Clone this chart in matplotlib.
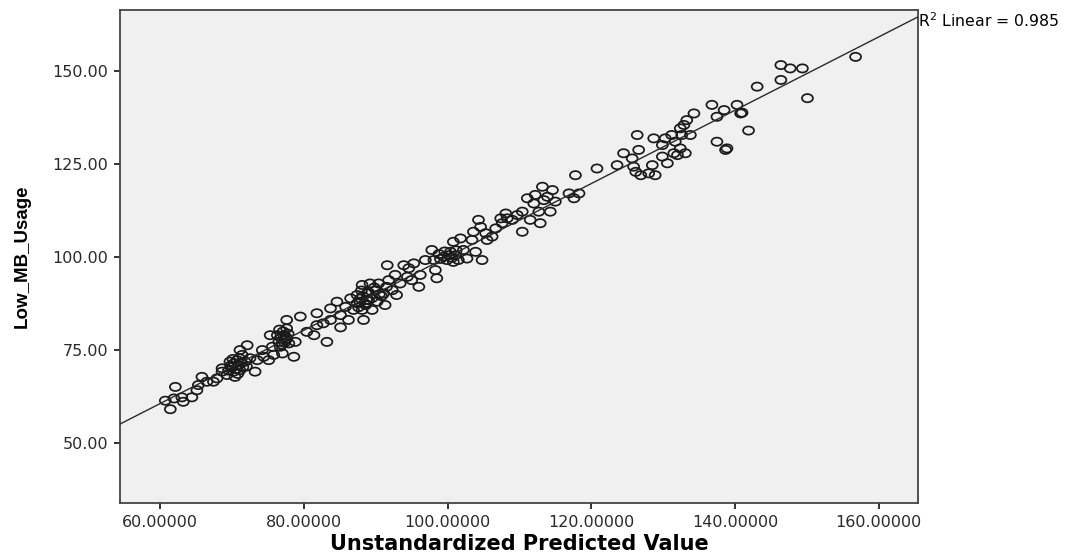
import numpy as np
import matplotlib
matplotlib.use('Agg')
import matplotlib.pyplot as plt
from matplotlib.path import Path
from matplotlib.ticker import FormatStrFormatter

predicted = [
    62.1, 61.4, 60.7, 61.9, 63.0, 63.2, 64.4, 65.1, 65.3, 65.8,
    66.5, 67.4, 67.9, 68.6, 68.6, 69.3, 69.7, 70.0, 70.2, 70.4,
    70.7, 70.9, 71.1, 71.4, 71.1, 72.1, 71.8, 72.5, 73.2, 73.5,
    74.2, 74.4, 75.1, 75.6, 75.8, 75.3, 76.3, 76.5, 76.7, 77.0,
    77.2, 77.4, 77.6, 77.6, 77.9, 78.6, 78.8, 79.5, 80.4, 81.4,
    81.8, 81.8, 82.7, 83.2,
    69.8, 70.3, 70.6, 71.0, 70.1, 69.5, 71.5, 70.8, 72.0, 71.3,
    76.8, 77.1, 77.5, 76.6, 77.8, 77.3, 76.9, 77.6,
    83.7, 83.7, 84.6, 85.1, 85.1, 85.8, 86.2, 86.5, 86.9, 87.4,
    87.4, 87.9, 88.1, 88.1, 88.3, 88.6, 88.8, 89.0, 89.2, 89.5,
    90.0, 90.2, 90.4, 91.1, 91.3, 91.6, 91.8, 92.3, 92.7, 92.9,
    93.4, 93.9, 94.4, 94.6, 95.0, 95.3, 96.0, 96.2, 96.9, 97.8,
    98.1, 98.5, 98.3,
    87.8, 88.2, 88.5, 88.0, 89.0, 89.5, 90.5, 88.7, 87.6, 89.8,
    90.8, 91.5,
    100.8, 101.8, 100.4, 101.1, 101.5, 102.2, 102.7, 103.4, 103.6, 103.9,
    104.3, 104.6, 104.8, 105.3, 105.5, 106.2, 106.7, 107.4, 107.6, 108.1,
    108.3, 109.0, 109.7, 110.4, 110.4, 111.1, 111.5, 112.0, 112.2, 112.7,
    112.9, 113.2, 113.4, 113.9, 114.3, 114.6, 115.0, 116.9, 117.6, 117.8,
    99.9, 100.8, 99.5, 99.0, 100.2, 99.6, 100.6, 101.2, 98.8,
    118.3, 120.8, 123.6, 124.5, 125.7, 125.9, 126.2, 126.4, 126.6, 126.9,
    128.0, 128.5, 128.7, 128.9, 129.9, 129.9, 130.3, 130.6, 131.2, 131.5,
    131.7, 132.0, 132.4, 132.4, 132.6, 132.9, 133.1, 133.3, 133.8, 134.3,
    136.8, 137.5, 137.5, 138.5, 138.7, 140.3, 140.8,
    146.4, 147.7, 149.4, 146.4, 143.1, 150.1, 156.8, 141.0, 141.9, 138.9,
]
observed = [
    65.1, 59.1, 61.4, 62.0, 62.3, 61.1, 62.3, 64.2, 65.6, 67.8,
    66.5, 66.5, 67.4, 69.2, 70.1, 68.3, 71.9, 70.5, 69.2, 67.8,
    72.3, 71.0, 69.6, 73.7, 75.0, 76.3, 71.9, 72.8, 69.2, 72.3,
    75.0, 73.2, 72.3, 75.9, 73.7, 79.0, 79.0, 77.2, 75.9, 74.1,
    79.0, 77.7, 80.8, 83.1, 76.8, 73.2, 77.2, 84.0, 79.9, 79.0,
    81.7, 84.9, 82.2, 77.2,
    70.8, 71.5, 69.9, 72.8, 72.6, 69.5, 70.4, 68.6, 70.6, 71.6,
    78.2, 80.0, 78.5, 80.5, 79.4, 77.0, 76.5, 78.0,
    86.2, 83.1, 88.0, 84.4, 81.1, 86.6, 83.1, 88.9, 85.8, 89.8,
    87.6, 88.9, 92.5, 85.8, 83.1, 87.1, 90.2, 88.4, 92.9, 85.8,
    91.1, 88.0, 92.9, 90.2, 87.1, 97.8, 93.8, 91.1, 95.2, 89.8,
    92.9, 97.8, 94.7, 97.0, 93.8, 98.3, 92.0, 95.2, 99.2, 101.9,
    99.2, 94.3, 96.5,
    88.0, 89.5, 87.5, 91.0, 90.5, 89.0, 90.0, 88.5, 86.5, 91.8,
    89.5, 92.0,
    104.1, 105.0, 101.4, 100.5, 99.2, 101.9, 99.6, 104.6, 106.8, 101.4,
    110.0, 108.1, 99.2, 106.4, 104.6, 105.5, 107.7, 110.4, 109.1, 111.7,
    110.4, 110.0, 111.3, 106.8, 112.2, 115.8, 110.0, 114.4, 116.7, 112.2,
    109.1, 118.9, 115.3, 116.2, 112.2, 118.0, 114.9, 117.1, 115.8, 122.0,
    99.2, 98.7, 100.1, 99.5, 100.5, 101.5, 99.8, 101.8, 100.8,
    117.1, 123.8, 124.7, 127.9, 126.5, 124.3, 122.9, 132.8, 128.8, 122.0,
    122.5, 124.7, 131.9, 122.0, 130.1, 127.0, 131.9, 125.2, 132.8, 127.9,
    131.0, 127.4, 134.6, 129.2, 132.8, 135.5, 127.9, 136.8, 132.8, 138.6,
    140.9, 137.7, 131.0, 139.5, 128.8, 140.9, 138.6,
    151.6, 150.7, 150.7, 147.6, 145.8, 142.7, 153.8, 138.8, 134.0, 129.2,
]
r2_text = 'R$^2$ Linear = 0.985'

x = np.array(predicted)
y = np.array(observed)

fig = plt.figure(figsize=(10.69, 5.55), dpi=100)
ax = fig.add_axes([0.1123, 0.0937, 0.7465, 0.8883])
ax.set_facecolor('#f0f0f0')

# the source picture is stretched sideways, so the circles are a bit wide
circ = Path.unit_circle()
oval = Path(circ.vertices * [1.0, 0.75], circ.codes)
ax.scatter(x, y, s=62, marker=oval, facecolors='none', edgecolors='#1a1a1a',
           linewidths=1.25, zorder=3)

# fit line across the whole frame
slope, intercept = np.polyfit(x, y, 1)
xlim = (54.4, 165.5)
ylim = (33.9, 166.4)
xs = np.array(xlim)
ax.plot(xs, slope * xs + intercept, color='#2a2a2a', lw=1.0, zorder=4)
ax.set_xlim(xlim)
ax.set_ylim(ylim)

ax.set_xticks([60, 80, 100, 120, 140, 160])
ax.set_yticks([50, 75, 100, 125, 150])
ax.xaxis.set_major_formatter(FormatStrFormatter('%.5f'))
ax.yaxis.set_major_formatter(FormatStrFormatter('%.2f'))
ax.tick_params(direction='out', length=4.5, width=1.3, color='#222222',
               labelsize=11.5, labelcolor='#2a2a2a', pad=4)
for sp in ax.spines.values():
    sp.set_color('#444444')
    sp.set_linewidth(1.3)

ax.set_xlabel('Unstandardized Predicted Value', fontsize=15, fontweight='bold')
ax.xaxis.set_label_coords(0.5, -0.0955)
ax.xaxis.label.set_va('baseline')
ax.set_ylabel('Low_MB_Usage', fontsize=13.5, fontweight='bold',
              family=['Liberation Sans Narrow', 'Liberation Sans', 'DejaVu Sans'])
ax.yaxis.set_label_coords(-0.1228, 0.5)
ax.yaxis.label.set_va('center')

ax.text(1.0, 0.978, r2_text, transform=ax.transAxes, ha='left', va='center',
        fontsize=11.3)

fig.savefig('out.png', dpi=100)
